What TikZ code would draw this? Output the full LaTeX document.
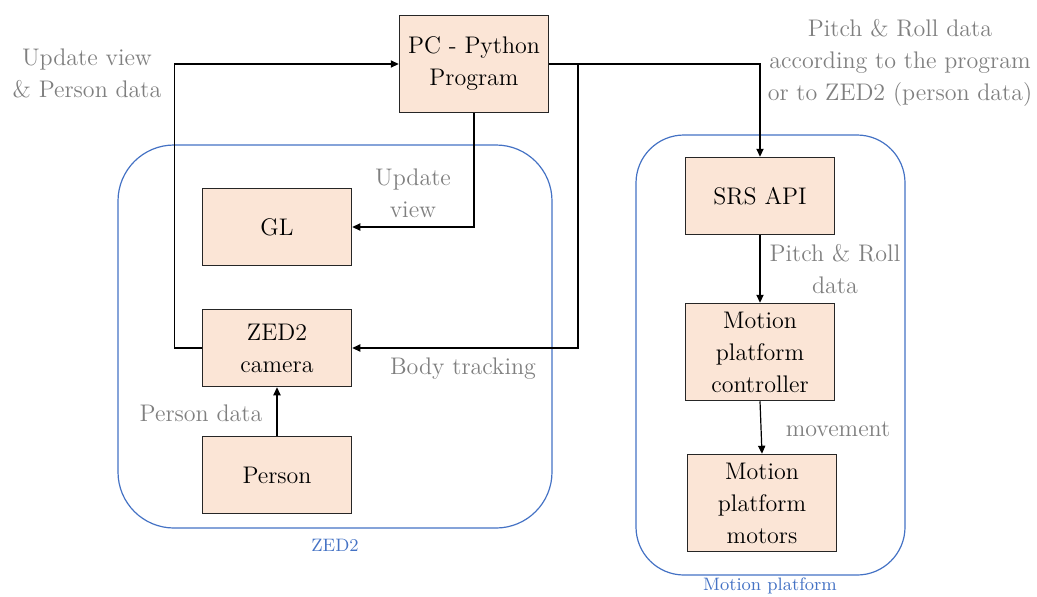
\documentclass[tikz,border=0pt]{standalone}
\usetikzlibrary{arrows.meta, positioning}
\definecolor{boxfill}{HTML}{FBE5D6}
\definecolor{zoneblue}{HTML}{4472C4}
\definecolor{labelgray}{HTML}{7F7F7F}

\begin{document}
\begin{tikzpicture}[x=0.5pt, y=-0.5pt,
  every node/.style = {font=\fontsize{12}{16}\selectfont},
  block/.style      = {draw=black!85, line width=0.75pt, fill=boxfill,
                       align=center, minimum width=74.5pt, minimum height=38.5pt,
                       inner sep=1pt},
  tallblock/.style  = {block, minimum height=48.5pt},
  zone/.style       = {draw=zoneblue, line width=0.6pt, rounded corners=28pt},
  zonelabel/.style  = {text=zoneblue, font=\fontsize{9}{11}\selectfont},
  note/.style       = {text=labelgray, align=center},
  flow/.style       = {-{Triangle[length=4pt, width=3.6pt]}, draw=black, line width=0.6pt},
]
  \useasboundingbox (0,0) rectangle (1037,596);

  % ---------------------------------------------------------------- zones
  \node[zone, minimum width=217pt, minimum height=191.5pt] (zedzone) at (335,336.5) {};
  \node[zone, rounded corners=24pt, minimum width=134.5pt, minimum height=220pt] (mpzone) at (770.5,355) {};
  \node[zonelabel] (zedlbl) at (335,545) {ZED2};
  \node[zonelabel] (mplbl)  at (770,586) {Motion platform};

  % --------------------------------------------------------------- blocks
  \node[tallblock] (pc)     at (474,64)  {PC - Python\\Program};
  \node[block]     (gl)     at (277,227) {GL};
  \node[block]     (cam)    at (277,348) {ZED2\\camera};
  \node[block]     (person) at (277,475) {Person};
  \node[block]     (srs)    at (760,196) {SRS API};
  \node[tallblock] (ctrl)   at (760,352) {Motion\\platform\\controller};
  \node[tallblock] (motors) at (762,503) {Motion\\platform\\motors};

  % --------------------------------------------------------------- labels
  \node[note] (lblup)   at (87,73)   {Update view\\\& Person data};
  \node[note] (lblgl)   at (413,193) {Update\\view};
  \node[note] (lblbody) at (463,369) {Body tracking};
  \node[note] (lblpers) at (201,413) {Person data};
  \node[note] (lblpr)   at (835,269) {Pitch \& Roll\\data};
  \node[note] (lblmove) at (838,429) {movement};
  \node[note] (lblprog) at (900,63)  {Pitch \& Roll data\\according to the program\\or to ZED2 (person data)};

  % -------------------------------------------------------------- linkage
  \coordinate (split) at (578,64);
  \draw[flow] (pc.east) -| (srs.north);
  \draw[flow] (split) |- (cam.east);
  \draw[flow] (pc.south) |- (gl.east);
  \draw[flow] (cam.west) -- ++(-27,0) |- (pc.west);
  \draw[flow] (person) -- (cam);
  \draw[flow] (srs) -- (ctrl);
  \draw[flow] (ctrl.south) -- (motors.north);

\end{tikzpicture}
\end{document}
